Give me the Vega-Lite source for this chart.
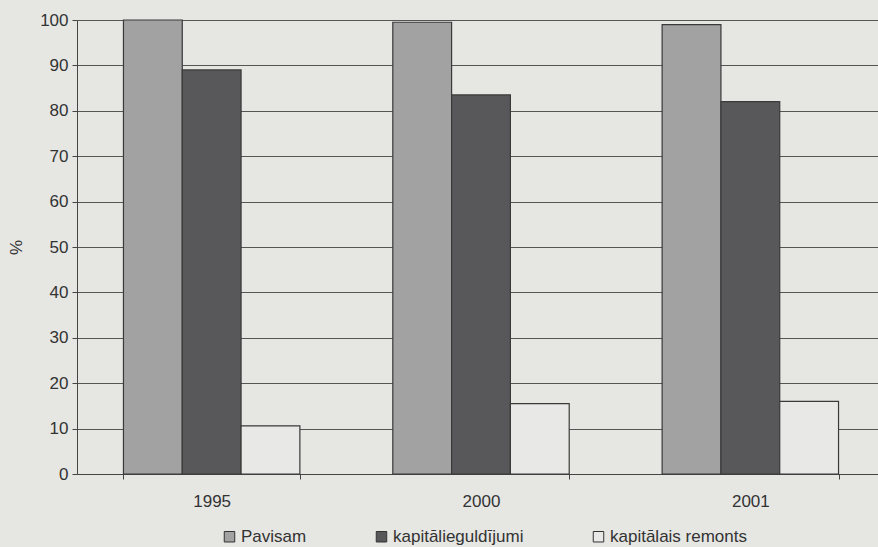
{
  "$schema": "https://vega.github.io/schema/vega-lite/v6.json",
  "autosize": "none",
  "width": 808,
  "height": 454,
  "padding": {"left": 77, "top": 20, "right": 0, "bottom": 73},
  "background": "#e6e6e3",
  "config": {
    "font": "Liberation Sans",
    "view": {"stroke": null},
    "axis": {"labelColor": "#333333", "titleColor": "#333333", "labelFont": "Liberation Sans", "titleFont": "Liberation Sans"}
  },
  "data": {
    "values": [
      {"year": "1995", "series": "Pavisam", "value": 100},
      {"year": "1995", "series": "kapitālieguldījumi", "value": 89},
      {"year": "1995", "series": "kapitālais remonts", "value": 10.6},
      {"year": "2000", "series": "Pavisam", "value": 99.5},
      {"year": "2000", "series": "kapitālieguldījumi", "value": 83.5},
      {"year": "2000", "series": "kapitālais remonts", "value": 15.5},
      {"year": "2001", "series": "Pavisam", "value": 99},
      {"year": "2001", "series": "kapitālieguldījumi", "value": 82},
      {"year": "2001", "series": "kapitālais remonts", "value": 16}
    ]
  },
  "mark": {"type": "bar", "stroke": "#3a3a3a", "strokeWidth": 1.2},
  "encoding": {
    "x": {
      "field": "year", "type": "nominal",
      "scale": {"paddingInner": 0.345, "paddingOuter": 0.1725},
      "axis": {"title": null, "labelAngle": 0, "labelFontSize": 17, "labelPadding": 14, "domainColor": "#444444", "tickBand": "extent", "tickColor": "#444444", "tickSize": 5, "grid": false}
    },
    "xOffset": {"field": "series", "type": "nominal", "sort": ["Pavisam", "kapitālieguldījumi", "kapitālais remonts"]},
    "y": {
      "field": "value", "type": "quantitative",
      "scale": {"domain": [0, 100], "nice": false},
      "axis": {"title": "%", "titleFontSize": 17, "titleFontWeight": "normal", "titlePadding": 14, "labelFontSize": 17, "labelPadding": 4, "values": [0,10,20,30,40,50,60,70,80,90,100], "grid": true, "gridColor": "#555555", "gridWidth": 1, "domainColor": "#444444", "tickColor": "#444444", "tickSize": 5}
    },
    "fill": {
      "field": "series", "type": "nominal",
      "scale": {"domain": ["Pavisam", "kapitālieguldījumi", "kapitālais remonts"], "range": ["#a2a2a2", "#58585a", "#e8e8e6"]},
      "legend": {
        "title": null, "orient": "none", "direction": "horizontal", "legendX": 144, "legendY": 508,
        "symbolType": "square", "symbolSize": 110, "symbolStrokeColor": "#333333", "symbolStrokeWidth": 1,
        "labelFontSize": 17, "labelColor": "#333333", "labelOffset": 3, "columnPadding": 66
      }
    }
  }
}
